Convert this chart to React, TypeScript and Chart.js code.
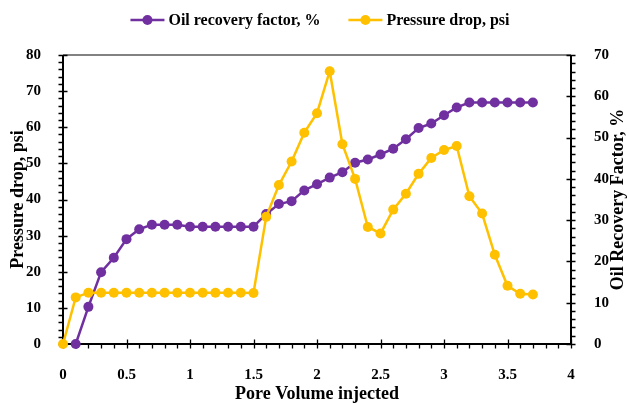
import React, { useEffect, useRef } from "react";
import { Chart, registerables } from "chart.js";

Chart.register(...registerables);

// Pore volume injected (x) for each series
const pvPressure = [0, 0.1, 0.2, 0.3, 0.4, 0.5, 0.6, 0.7, 0.8, 0.9, 1.0, 1.1, 1.2, 1.3, 1.4, 1.5, 1.6, 1.7, 1.8, 1.9, 2.0, 2.1, 2.2, 2.3, 2.4, 2.5, 2.6, 2.7, 2.8, 2.9, 3.0, 3.1, 3.2, 3.3, 3.4, 3.5, 3.6, 3.7];
const pressureDrop = [0, 12.9, 14.2, 14.2, 14.2, 14.2, 14.2, 14.2, 14.2, 14.2, 14.2, 14.2, 14.2, 14.2, 14.2, 14.1, 35.2, 44.0, 50.5, 58.5, 63.9, 75.5, 55.3, 45.7, 32.4, 30.6, 37.2, 41.6, 47.1, 51.5, 53.7, 54.8, 40.9, 36.1, 24.7, 16.1, 13.9, 13.7];

const pvOil = [0.1, 0.2, 0.3, 0.4, 0.5, 0.6, 0.7, 0.8, 0.9, 1.0, 1.1, 1.2, 1.3, 1.4, 1.5, 1.6, 1.7, 1.8, 1.9, 2.0, 2.1, 2.2, 2.3, 2.4, 2.5, 2.6, 2.7, 2.8, 2.9, 3.0, 3.1, 3.2, 3.3, 3.4, 3.5, 3.6, 3.7];
const oilRecovery = [0, 9.0, 17.4, 20.9, 25.4, 27.8, 28.9, 28.9, 28.9, 28.4, 28.4, 28.4, 28.4, 28.4, 28.4, 31.5, 33.9, 34.6, 37.2, 38.7, 40.3, 41.6, 43.9, 44.7, 45.9, 47.3, 49.6, 52.3, 53.4, 55.4, 57.3, 58.5, 58.5, 58.5, 58.5, 58.5, 58.5];

const seriesNames = ["Oil recovery factor, %", "Pressure drop, psi"];
const seriesColors = ["#7030A0", "#FFC000"];
const xTitle = "Pore Volume injected";
const yLeftTitle = "Pressure drop, psi";
const yRightTitle = "Oil Recovery Factor, %";

const FONT = "'Liberation Serif', 'Times New Roman', serif";

const decorPlugin = {
  id: "decor",
  beforeDatasetsDraw(chart: any) {
    const { ctx, chartArea } = chart;
    const { left, right, top, bottom } = chartArea;
    const xs = chart.scales.x;
    const yl = chart.scales.yP;
    const yr = chart.scales.yO;
    ctx.save();
    // top border
    ctx.strokeStyle = "#595959";
    ctx.lineWidth = 1.5;
    ctx.beginPath();
    ctx.moveTo(left, top);
    ctx.lineTo(right, top);
    ctx.stroke();
    // axes
    ctx.strokeStyle = "#000";
    ctx.lineWidth = 2;
    ctx.beginPath();
    ctx.moveTo(left, top);
    ctx.lineTo(left, bottom);
    ctx.moveTo(right, top);
    ctx.lineTo(right, bottom);
    ctx.moveTo(left - 1, bottom);
    ctx.lineTo(right + 1, bottom);
    ctx.stroke();
    // ticks
    ctx.lineWidth = 1.3;
    ctx.beginPath();
    for (let v = yl.min; v <= yl.max + 1e-9; v += 2) {
      const p = Math.round(yl.getPixelForValue(v)) + 0.5;
      const major = Math.abs(v % 10) < 1e-6;
      ctx.moveTo(left - 4.5, p);
      ctx.lineTo(major ? left + 4.5 : left, p);
    }
    for (let v = yr.min; v <= yr.max + 1e-9; v += 2) {
      const p = Math.round(yr.getPixelForValue(v)) + 0.5;
      const major = Math.abs(v % 10) < 1e-6;
      ctx.moveTo(major ? right - 4.5 : right, p);
      ctx.lineTo(right + 4.5, p);
    }
    for (let i = 0; i <= 40; i++) {
      const v = i / 10;
      const p = Math.round(xs.getPixelForValue(v)) + 0.5;
      const major = i % 5 === 0;
      ctx.moveTo(p, major ? bottom - 4.5 : bottom);
      ctx.lineTo(p, bottom + 4.5);
    }
    ctx.stroke();
    ctx.restore();
  },
  afterDraw(chart: any) {
    const { ctx, chartArea } = chart;
    const { left, right, top, bottom } = chartArea;
    ctx.save();
    ctx.fillStyle = "#000";
    ctx.font = `bold 18px ${FONT}`;
    ctx.textAlign = "center";
    ctx.textBaseline = "middle";
    // x title
    ctx.fillText(xTitle, (left + right) / 2, 394);
    // left title
    ctx.save();
    ctx.translate(18, (top + bottom) / 2);
    ctx.rotate(-Math.PI / 2);
    ctx.fillText(yLeftTitle, 0, 0);
    ctx.restore();
    // right title
    ctx.save();
    ctx.translate(618, (top + bottom) / 2);
    ctx.rotate(-Math.PI / 2);
    ctx.fillText(yRightTitle, 0, 0);
    ctx.restore();

    // legend
    ctx.font = `bold 16px ${FONT}`;
    ctx.textAlign = "left";
    const markerW = 34;
    const gap = 4;
    const spacing = 28;
    const widths = seriesNames.map((n) => ctx.measureText(n).width);
    const total = widths.reduce((a, w) => a + markerW + gap + w, 0) + spacing * (seriesNames.length - 1);
    let x = 320 - total / 2;
    const ly = 20;
    seriesNames.forEach((name, i) => {
      ctx.strokeStyle = seriesColors[i];
      ctx.lineWidth = 2.5;
      ctx.beginPath();
      ctx.moveTo(x, ly);
      ctx.lineTo(x + markerW, ly);
      ctx.stroke();
      ctx.fillStyle = seriesColors[i];
      ctx.beginPath();
      ctx.arc(x + markerW / 2, ly, 5, 0, Math.PI * 2);
      ctx.fill();
      ctx.fillStyle = "#000";
      ctx.fillText(name, x + markerW + gap, ly + 1);
      x += markerW + gap + widths[i] + spacing;
    });
    ctx.restore();
  },
};

export default function App() {
  const ref = useRef<HTMLCanvasElement | null>(null);
  useEffect(() => {
    if (!ref.current) return;
    const tickFont = { family: FONT, size: 15, weight: "bold" as const };
    const chart = new Chart(ref.current, {
      type: "line",
      data: {
        datasets: [
          {
            label: seriesNames[1],
            data: pvPressure.map((x, i) => ({ x, y: pressureDrop[i] })),
            borderColor: seriesColors[1],
            backgroundColor: seriesColors[1],
            borderWidth: 2.5,
            pointRadius: 5,
            pointBorderWidth: 0,
            pointHoverRadius: 5,
            tension: 0,
            yAxisID: "yP",
            clip: false,
          },
          {
            label: seriesNames[0],
            data: pvOil.map((x, i) => ({ x, y: oilRecovery[i] })),
            borderColor: seriesColors[0],
            backgroundColor: seriesColors[0],
            borderWidth: 2.5,
            pointRadius: 5,
            pointBorderWidth: 0,
            pointHoverRadius: 5,
            tension: 0,
            yAxisID: "yO",
            clip: false,
          },
        ],
      },
      options: {
        responsive: false,
        animation: false,
        layout: { padding: { top: 55, left: 0, right: 0, bottom: 0 } },
        plugins: { legend: { display: false }, tooltip: { enabled: false } },
        scales: {
          x: {
            type: "linear",
            min: 0,
            max: 4,
            grid: { display: false },
            border: { display: false },
            ticks: {
              stepSize: 0.5,
              color: "#000",
              font: tickFont,
              padding: 14,
              maxRotation: 0,
              callback: (v: any) => String(Number(Number(v).toFixed(1))),
            },
            afterFit: (s: any) => { s.height = 60; },
          },
          yP: {
            type: "linear",
            position: "left",
            min: 0,
            max: 80,
            grid: { display: false },
            border: { display: false },
            ticks: { stepSize: 10, color: "#000", font: tickFont, padding: 14 },
            afterFit: (s: any) => { s.width = 63; },
          },
          yO: {
            type: "linear",
            position: "right",
            min: 0,
            max: 70,
            grid: { display: false },
            border: { display: false },
            ticks: { stepSize: 10, color: "#000", font: tickFont, padding: 15 },
            afterFit: (s: any) => { s.width = 58; },
          },
        },
      },
      plugins: [decorPlugin],
    });
    return () => chart.destroy();
  }, []);
  return (
    <div style={{ position: "fixed", left: 0, top: 0, width: 629, height: 404, background: "#fff" }}>
      <canvas ref={ref} width={629} height={404} style={{ display: "block" }} />
    </div>
  );
}
